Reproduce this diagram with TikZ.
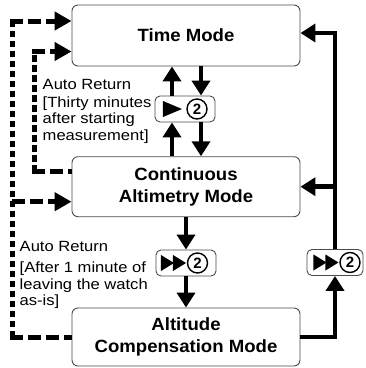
\documentclass[tikz,border=0pt]{standalone}
\usepackage{fontspec}
\setmainfont{Liberation Sans}
\newfontfamily\notefont[FakeStretch=1.12]{Liberation Sans}
\newfontfamily\modefont[FakeStretch=1.05]{Liberation Sans}
\usetikzlibrary{arrows.meta}

\tikzset{
  modebox/.style={draw=black!70, line width=0.9pt, rounded corners=6pt, inner sep=0pt,
    minimum width=228pt, align=center,
    font=\modefont\bfseries\fontsize{17.7}{21.5}\selectfont},
  btnbox/.style={draw=black!70, line width=0.9pt, rounded corners=5pt, inner sep=0pt,
    minimum height=26pt},
  numring/.style={circle, draw, line width=1.4pt, inner sep=0pt, minimum size=20pt,
    font=\bfseries\fontsize{15}{15}\selectfont},
  note/.style={anchor=base west, inner sep=0pt, font=\notefont\fontsize{14.8}{16}\selectfont},
  flow/.style={line width=4.5pt, -{Triangle[length=15pt,width=18pt]}},
  hdash/.style={line width=5pt, dash pattern=on 13pt off 5pt},
  vdash/.style={line width=5pt, dash pattern=on 6.5pt off 3.5pt},
  dashtip/.style={-{Triangle[length=17pt,width=18pt]}},
  play/.pic={\fill (-9.5,-8) -- (9.5,0) -- (-9.5,8) -- cycle;},
  ffwd/.pic={\fill (-12.5,-8) -- (0.5,0) -- (-12.5,8) -- cycle;
             \fill (-0.5,-8) -- (12.5,0) -- (-0.5,8) -- cycle;},
}

\begin{document}
\begin{tikzpicture}[x=1pt,y=-1pt]
\fill[white] (0,0) rectangle (366,368);
\useasboundingbox (0,0) rectangle (366,368);

% mode boxes
\node[modebox, minimum height=61pt] (time) at (186,35.5) {Time Mode};
\node[modebox, minimum height=60pt] (cont) at (186,186.7) {Continuous\\Altimetry Mode};
\node[modebox, minimum height=58pt] (alt) at (186,337) {Altitude\\Compensation Mode};

% button boxes
\node[btnbox, minimum width=60pt] (b1) at (185,109) {};
\node[btnbox, minimum width=60pt] (b2) at (186,263) {};
\node[btnbox, minimum width=56pt] (b3) at (335,262.5) {};

\pic at ([xshift=-12.5pt]b1.center) {play};
\node[numring] (n1) at ([xshift=12pt]b1.center) {2};
\pic at ([xshift=-12.5pt]b2.center) {ffwd};
\node[numring] (n2) at ([xshift=11.5pt]b2.center) {2};
\pic at ([xshift=-9pt]b3.center) {ffwd};
\node[numring] (n3) at ([xshift=15pt]b3.center) {2};

% solid flow arrows
\coordinate (upx) at (172,0);
\coordinate (dnx) at (201,0);
\draw[flow] (upx |- cont.north) -- (upx |- b1.south);
\draw[flow] (upx |- b1.north) -- (upx |- time.south);
\draw[flow] (dnx |- time.south) -- (dnx |- b1.north);
\draw[flow] (dnx |- b1.south) -- (dnx |- cont.north);
\draw[flow] (cont.south) -- (b2.north);
\draw[flow] (b2.south) -- (alt.north);

\draw[flow] (alt.east) -| (b3.south);
\draw[flow] (b3.north) |- ([yshift=2.5pt]time.east);
\draw[flow] (b3.north |- cont.east) -- (cont.east);

% dashed auto-return paths
\coordinate (outx) at (12.5,0);
\coordinate (inx) at (35,0);
\coordinate (tHi) at ([yshift=14.5pt]time.west);
\coordinate (tLo) at ([yshift=-16pt]time.west);
\coordinate (cHi) at ([yshift=15pt]cont.west);
\coordinate (cLo) at ([yshift=-15pt]cont.west);

\draw[vdash] (outx |- alt.west) -- (outx |- tHi);
\draw[hdash] ([xshift=-2.5pt]outx |- alt.west) -- (alt.west);
\draw[hdash, dashtip] ([xshift=-2.5pt]outx |- tHi) -- (tHi);
\draw[hdash, dashtip] (outx |- cLo) -- (cLo);

\draw[vdash] (inx |- cHi) -- (inx |- tLo);
\draw[hdash] ([xshift=-2.5pt]inx |- cHi) -- (cHi);
\draw[hdash, dashtip] ([xshift=-2.5pt]inx |- tLo) -- (tLo);

% notes
\node[note] (r1a) at (42.5,89) {Auto Return};
\node[note] (r1b) at (42.5,107.5) {[Thirty minutes};
\node[note] (r1c) at (42.5,123.5) {after starting};
\node[note] (r1d) at (42.5,140.3) {measurement]};
\node[note] (r2a) at (19.5,251.7) {Auto Return};
\node[note] (r2b) at (19.5,272) {[After 1 minute of};
\node[note] (r2c) at (19.5,289.3) {leaving the watch};
\node[note] (r2d) at (19.5,305.7) {as-is]};
\end{tikzpicture}
\end{document}
